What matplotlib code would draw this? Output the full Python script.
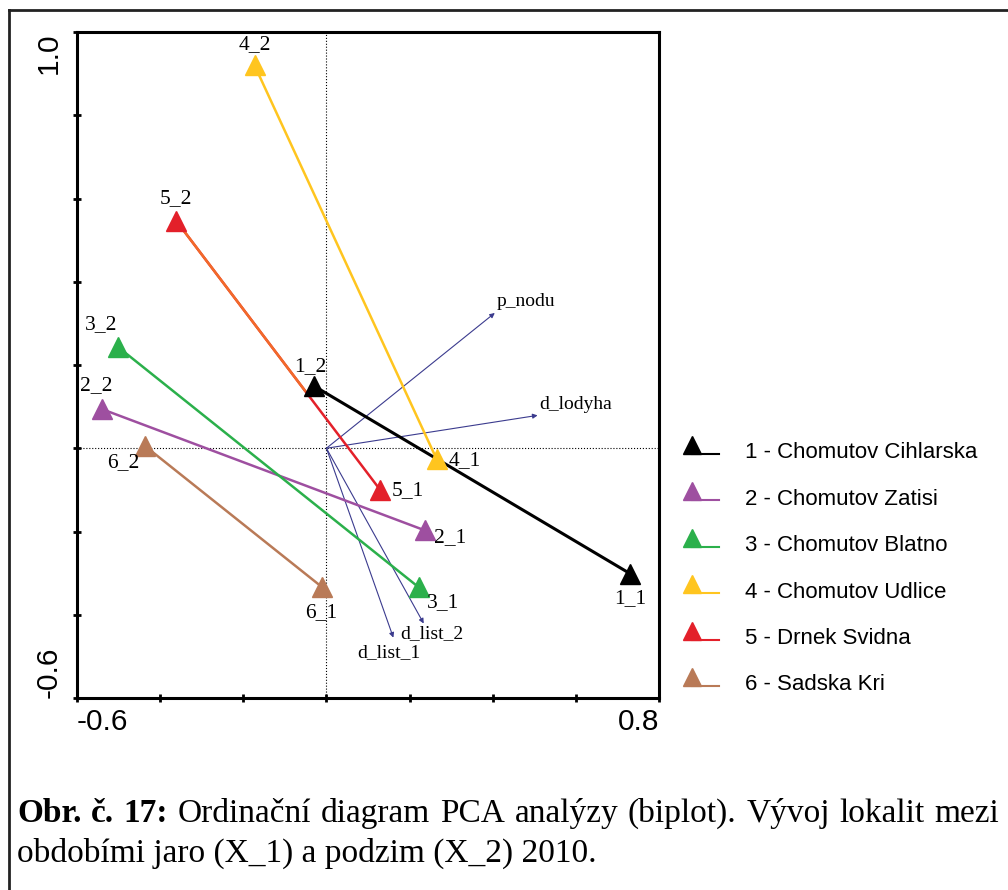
import matplotlib.pyplot as plt
import numpy as np
from matplotlib.lines import Line2D

# sites: spring (X_1) and autumn (X_2) scores
sites = ['1 - Chomutov Cihlarska', '2 - Chomutov Zatisi', '3 - Chomutov Blatno',
         '4 - Chomutov Udlice', '5 - Drnek Svidna', '6 - Sadska Kri']
site_colors = ['#000000', '#9E4FA0', '#2BB04B', '#FFC51F', '#E3202A', '#B97A57']
spring_x = [0.73, 0.236, 0.222, 0.265, 0.13, -0.01]
spring_y = [-0.301, -0.197, -0.334, -0.026, -0.101, -0.334]
autumn_x = [-0.029, -0.54, -0.501, -0.173, -0.361, -0.436]
autumn_y = [0.149, 0.094, 0.243, 0.92, 0.546, 0.005]

# species arrows
species = ['p_nodu', 'd_lodyha', 'd_list_2', 'd_list_1']
species_x = [0.405, 0.508, 0.234, 0.161]
species_y = [0.325, 0.079, -0.421, -0.455]

# label offsets (points) and alignment
spring_off = [((0, -18), 'center'), ((7, -5), 'left'), ((6, -11), 'left'),
              ((9, -1), 'left'), ((8, 0), 'left'), ((-1, -18), 'center')]
autumn_off = [((-3, 14), 'center'), ((-4, 17), 'center'), ((-12, 16), 'center'),
              ((0, 15), 'center'), ((0, 16), 'center'), ((-16, -12), 'center')]
species_off = [((1, 8), 'left'), ((1, 8), 'left'), ((6, -7), 'center'), ((-3, -11), 'center')]

W, H = 1008, 890
fig = plt.figure(figsize=(W / 100, H / 100), dpi=100)
ax = fig.add_axes([77 / W, 1 - 698 / H, 582 / W, 666 / H])

ax.axhline(0, color='black', lw=0.8, ls=':', zorder=1)
ax.axvline(0, color='black', lw=0.8, ls=':', zorder=1)

arrow_col = '#3b3b8e'
for name, sx, sy, (off, ha) in zip(species, species_x, species_y, species_off):
    ax.annotate('', xy=(sx, sy), xytext=(0, 0),
                arrowprops=dict(arrowstyle='-|>', color=arrow_col, lw=0.8,
                                mutation_scale=7, shrinkA=0, shrinkB=0), zorder=1.5)
    ax.annotate(name, xy=(sx, sy), xytext=off, textcoords='offset points',
                ha=ha, va='center', fontsize=14, family='Liberation Serif')

for i in range(len(sites)):
    col = site_colors[i]
    lw = 2.2 if i == 0 else 1.8
    ax.plot([spring_x[i], autumn_x[i]], [spring_y[i], autumn_y[i]], color=col, lw=lw, zorder=2)
    if i == 4:
        # upper part of this line is orange in the original
        f = 0.63
        mx = autumn_x[i] + f * (spring_x[i] - autumn_x[i])
        my = autumn_y[i] + f * (spring_y[i] - autumn_y[i])
        ax.plot([autumn_x[i], mx], [autumn_y[i], my], color='#F26A2A', lw=lw, zorder=2.1)
    ax.plot([spring_x[i], autumn_x[i]], [spring_y[i], autumn_y[i]], ls='none',
            marker='^', ms=14, color=col, zorder=3)
    (o1, h1), (o2, h2) = spring_off[i], autumn_off[i]
    ax.annotate(f'{i + 1}_1', xy=(spring_x[i], spring_y[i]), xytext=o1, textcoords='offset points',
                ha=h1, va='center', fontsize=15.5, family='Liberation Serif')
    ax.annotate(f'{i + 1}_2', xy=(autumn_x[i], autumn_y[i]), xytext=o2, textcoords='offset points',
                ha=h2, va='center', fontsize=15.5, family='Liberation Serif')

ax.set_xlim(-0.6, 0.8)
ax.set_ylim(-0.6, 1.0)
xt = np.round(np.arange(-0.6, 0.81, 0.2), 1)
yt = np.round(np.arange(-0.6, 1.01, 0.2), 1)
ax.set_xticks(xt)
ax.set_yticks(yt)
ax.set_xticklabels(['-0.6'] + [''] * (len(xt) - 2) + ['0.8'], family='Liberation Sans', fontsize=21.5)
ax.set_yticklabels(['-0.6'] + [''] * (len(yt) - 2) + ['1.0'], family='Liberation Sans', fontsize=21.5,
                   rotation=90)
ax.tick_params(direction='inout', length=6, width=2)
ax.tick_params(axis='x', pad=4)
ax.tick_params(axis='y', pad=7)
xl = ax.get_xticklabels()
xl[0].set_ha('left')
xl[-1].set_ha('right')
yl = ax.get_yticklabels()
yl[0].set_va('bottom')
yl[-1].set_va('top')
for s in ax.spines.values():
    s.set_linewidth(2.2)

# legend drawn by hand: marker sits at the left end of the line
lax = fig.add_axes([660 / W, 1 - 720 / H, 348 / W, 300 / H])
lax.set_xlim(660, 1008)
lax.set_ylim(720, 420)
lax.axis('off')
for i, (name, col) in enumerate(zip(sites, site_colors)):
    y = 453 + 46.4 * i
    lax.plot([692, 719], [y + 1, y + 1], color=col, lw=1.5)
    lax.plot([692], [y - 8], marker='^', ms=13, color=col)
    lax.text(745, y, name, va='center', fontsize=16, family='Liberation Sans')

# outer frame (top and left edges)
fig.add_artist(Line2D([9 / W, 9 / W], [0, 1 - 10 / H], transform=fig.transFigure, color='#222222', lw=2))
fig.add_artist(Line2D([9 / W, 1], [1 - 10 / H, 1 - 10 / H], transform=fig.transFigure, color='#222222', lw=2))

# caption, first line justified
line1 = [('Obr.', 'bold'), ('č.', 'bold'), ('17:', 'bold'), ('Ordinační', 'normal'),
         ('diagram', 'normal'), ('PCA', 'normal'), ('analýzy', 'normal'), ('(biplot).', 'normal'),
         ('Vývoj', 'normal'), ('lokalit', 'normal'), ('mezi', 'normal')]
cap_fs = 24
r = fig.canvas.get_renderer()
texts = [fig.text(0, 1 - 822 / H, w, fontweight=fw, fontsize=cap_fs, family='Liberation Serif',
                  va='baseline') for w, fw in line1]
widths = [t.get_window_extent(r).width for t in texts]
x_left, x_right = 17, 999
gap = (x_right - x_left - sum(widths)) / (len(texts) - 1)
x = x_left
for t, w in zip(texts, widths):
    t.set_x(x / W)
    x += w + gap
fig.text(17 / W, 1 - 862 / H, 'obdobími jaro (X_1) a podzim (X_2) 2010.', fontsize=cap_fs,
         family='Liberation Serif', va='baseline')

fig.savefig('out.png', dpi=100)
